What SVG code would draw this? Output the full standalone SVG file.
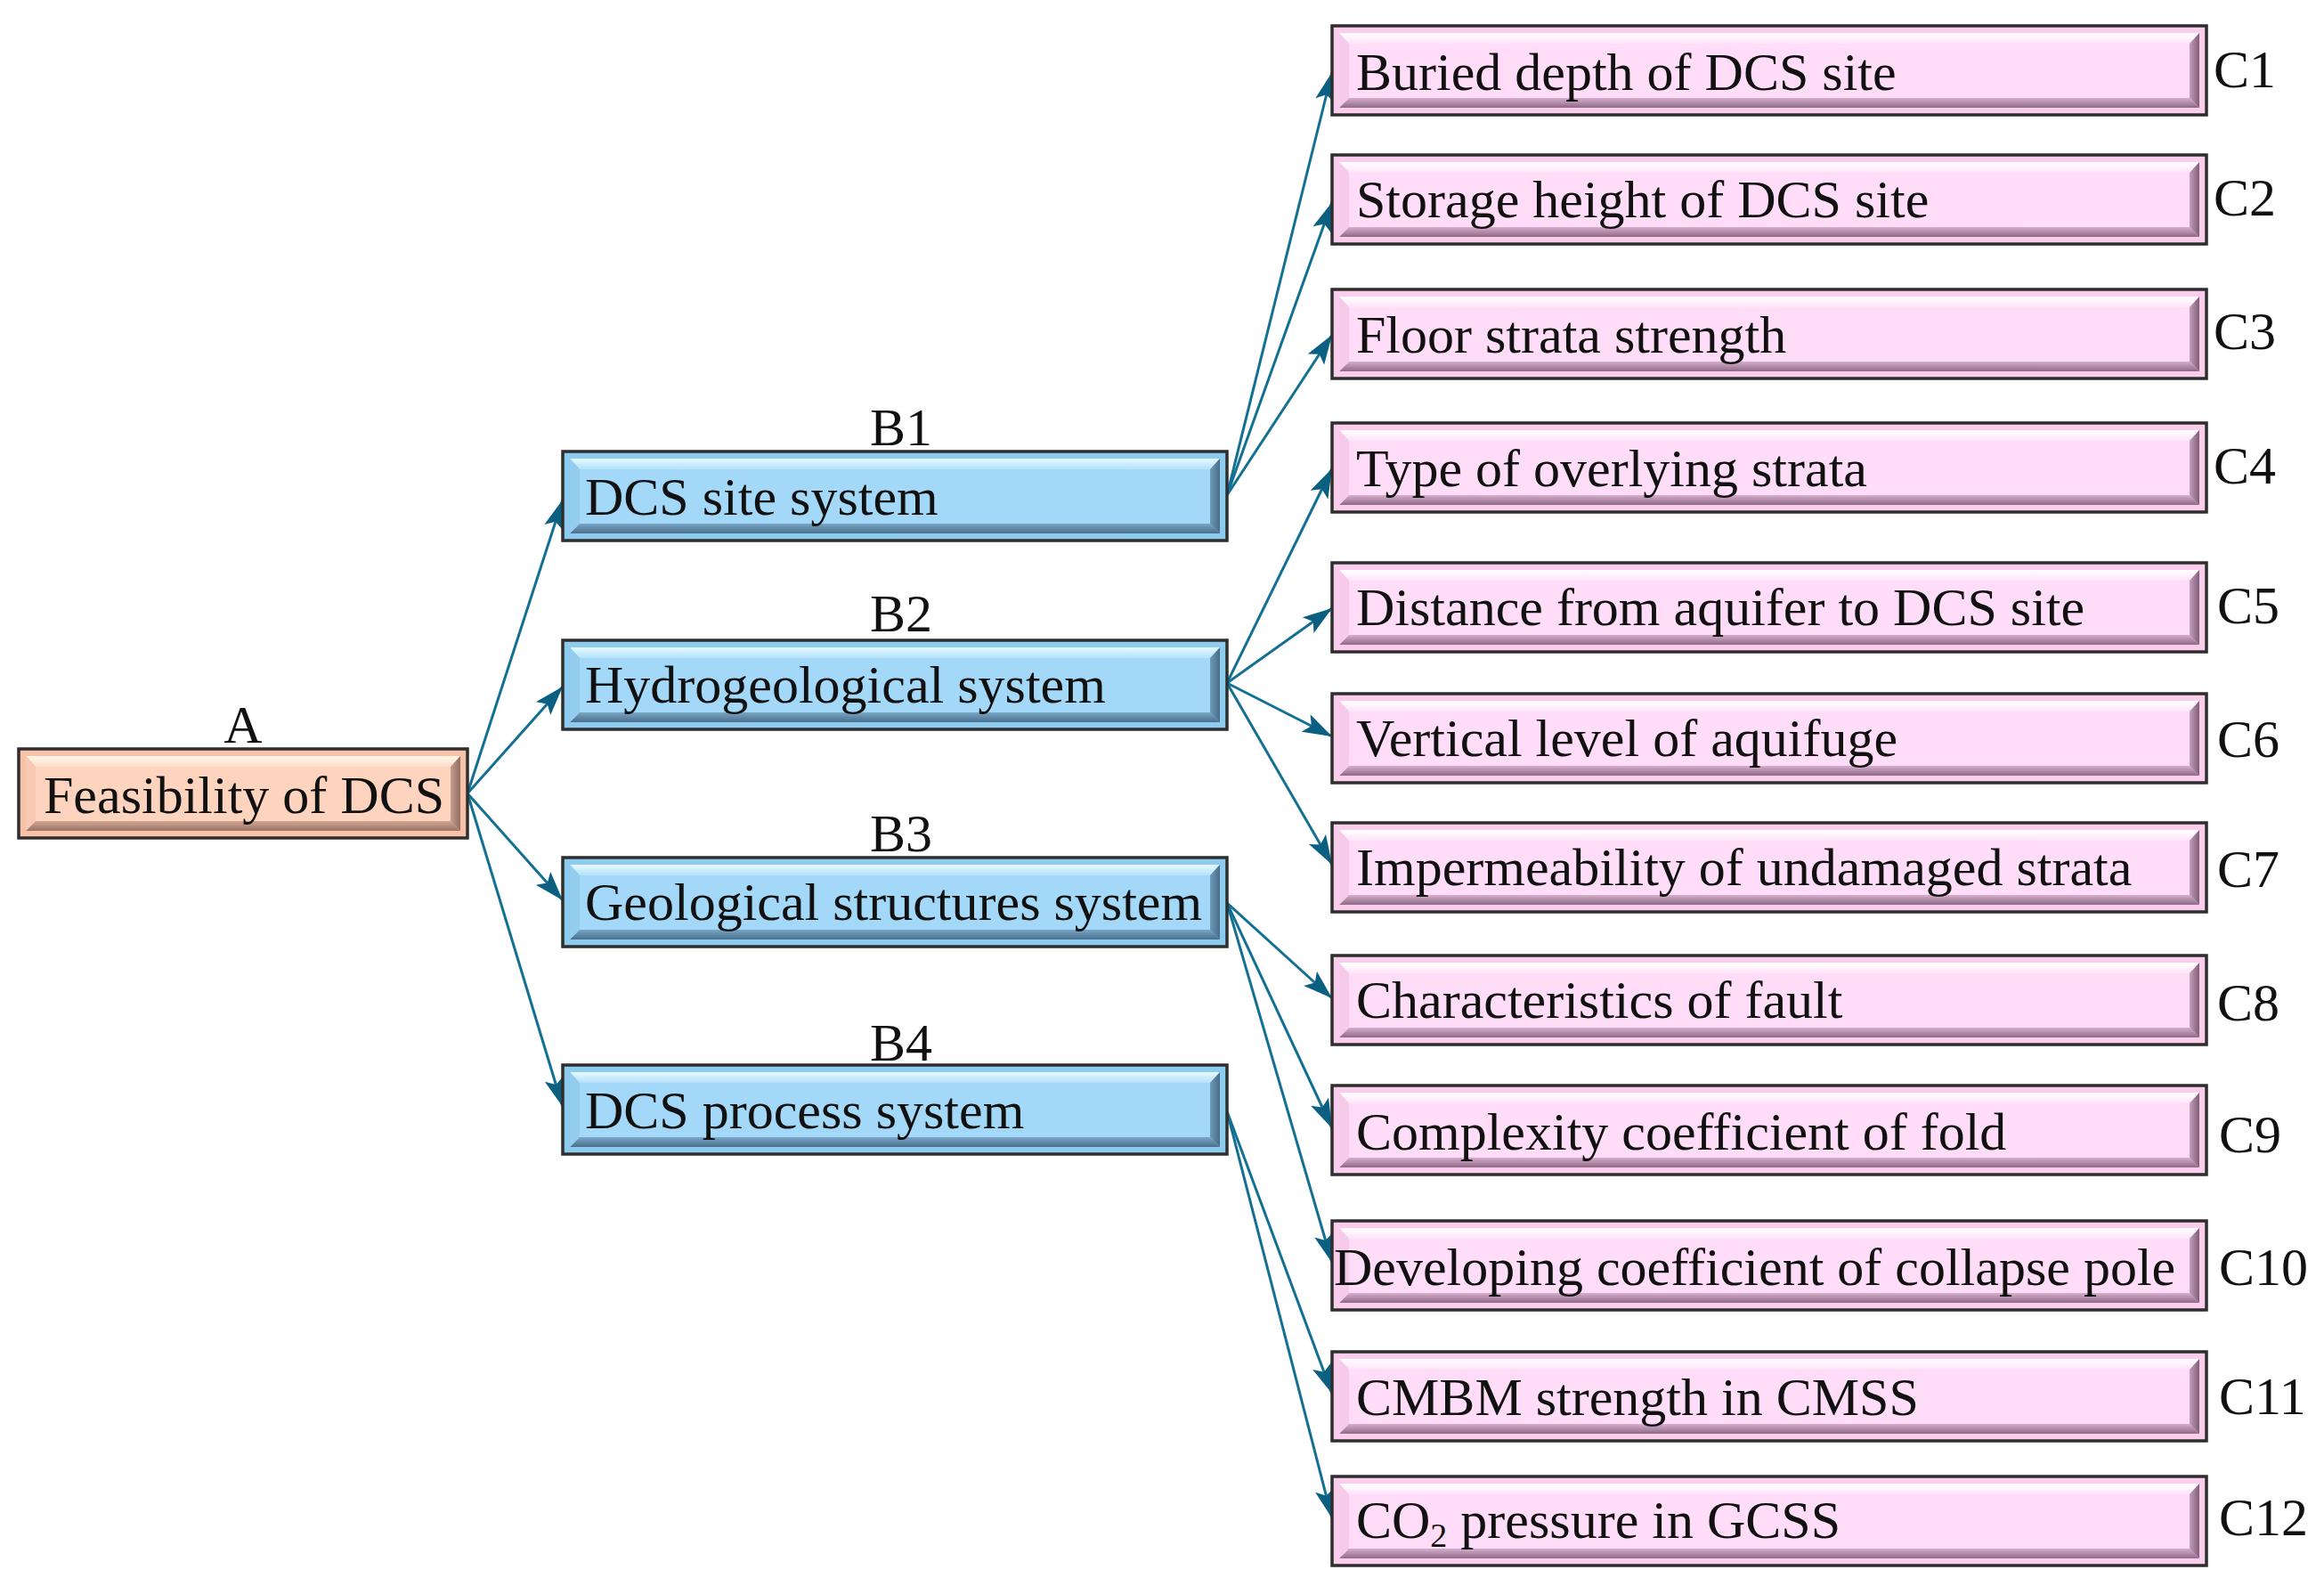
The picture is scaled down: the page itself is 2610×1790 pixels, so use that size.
<svg xmlns="http://www.w3.org/2000/svg" xmlns:xlink="http://www.w3.org/1999/xlink" width="2610" height="1790" viewBox="0 0 2610 1790">
<style>
text{font-family:"Liberation Serif","Times New Roman",serif;font-size:60px;fill:#111}
.lbl{text-anchor:middle}
.edge{stroke:#137092;stroke-width:3;fill:none;marker-end:url(#arr)}
.frame{stroke:#2e2e2e;stroke-width:3.5}
</style>
<defs>
<marker id="arr" markerUnits="userSpaceOnUse" markerWidth="34" markerHeight="24" refX="33" refY="12" orient="auto">
<path d="M0,1 L33,12 L0,23 L7,12 Z" fill="#0B5F80"/>
</marker>
<linearGradient id="pT" x1="0" y1="0" x2="0" y2="1"><stop offset="0" stop-color="#FFFFFF"/><stop offset="1" stop-color="#FFE4F9"/></linearGradient>
<linearGradient id="pB" x1="0" y1="0" x2="0" y2="1"><stop offset="0" stop-color="#D7AECD"/><stop offset="1" stop-color="#8E6A87"/></linearGradient>
<linearGradient id="pR" x1="0" y1="0" x2="1" y2="0"><stop offset="0" stop-color="#C49DBB"/><stop offset="1" stop-color="#7E5E78"/></linearGradient>
<linearGradient id="bT" x1="0" y1="0" x2="0" y2="1"><stop offset="0" stop-color="#E6F9FF"/><stop offset="1" stop-color="#B4E1FA"/></linearGradient>
<linearGradient id="bB" x1="0" y1="0" x2="0" y2="1"><stop offset="0" stop-color="#7AA6C6"/><stop offset="1" stop-color="#4A6F8D"/></linearGradient>
<linearGradient id="bR" x1="0" y1="0" x2="1" y2="0"><stop offset="0" stop-color="#6F99B9"/><stop offset="1" stop-color="#486C89"/></linearGradient>
<linearGradient id="oT" x1="0" y1="0" x2="0" y2="1"><stop offset="0" stop-color="#FFF7EA"/><stop offset="1" stop-color="#FFDDC9"/></linearGradient>
<linearGradient id="oB" x1="0" y1="0" x2="0" y2="1"><stop offset="0" stop-color="#D2A592"/><stop offset="1" stop-color="#9A7567"/></linearGradient>
<linearGradient id="oR" x1="0" y1="0" x2="1" y2="0"><stop offset="0" stop-color="#C79C8C"/><stop offset="1" stop-color="#8F6E62"/></linearGradient>
<g id="boxC">
<rect class="frame" x="0" y="0" width="982" height="100" fill="#F9CDEB"/>
<polygon points="8,8 974,8 963,20 19,20" fill="url(#pT)"/>
<polygon points="8,92 974,92 963,81 19,81" fill="url(#pB)"/>
<polygon points="8,8 19,20 19,81 8,92" fill="#F6CBEA"/>
<polygon points="974,8 963,20 963,81 974,92" fill="url(#pR)"/>
<rect x="19" y="20" width="944" height="61" fill="#FFDDF8"/>
</g>
<g id="boxB">
<rect class="frame" x="0" y="0" width="746" height="100" fill="#8DCBEF"/>
<polygon points="8,8 738,8 727,20 19,20" fill="url(#bT)"/>
<polygon points="8,92 738,92 727,81 19,81" fill="url(#bB)"/>
<polygon points="8,8 19,20 19,81 8,92" fill="#93CDF0"/>
<polygon points="738,8 727,20 727,81 738,92" fill="url(#bR)"/>
<rect x="19" y="20" width="708" height="61" fill="#A3D8F8"/>
</g>
<g id="boxA">
<rect class="frame" x="0" y="0" width="504" height="100" fill="#F8C2A8"/>
<polygon points="8,8 496,8 485,20 19,20" fill="url(#oT)"/>
<polygon points="8,92 496,92 485,81 19,81" fill="url(#oB)"/>
<polygon points="8,8 19,20 19,81 8,92" fill="#F9C8B0"/>
<polygon points="496,8 485,20 485,81 496,92" fill="url(#oR)"/>
<rect x="19" y="20" width="466" height="61" fill="#FFD4BE"/>
</g>
</defs>
<rect x="0" y="0" width="2610" height="1790" fill="#FFFFFF"/>

<g id="connectors">
<line class="edge" x1="525" y1="891" x2="632" y2="561"/>
<line class="edge" x1="525" y1="891" x2="632" y2="771"/>
<line class="edge" x1="525" y1="891" x2="632" y2="1011"/>
<line class="edge" x1="525" y1="891" x2="632" y2="1243"/>
<line class="edge" x1="1378" y1="556" x2="1496" y2="81"/>
<line class="edge" x1="1378" y1="556" x2="1496" y2="227"/>
<line class="edge" x1="1378" y1="556" x2="1496" y2="376"/>
<line class="edge" x1="1378" y1="767" x2="1496" y2="526"/>
<line class="edge" x1="1378" y1="767" x2="1496" y2="683"/>
<line class="edge" x1="1378" y1="767" x2="1496" y2="827"/>
<line class="edge" x1="1378" y1="767" x2="1496" y2="971"/>
<line class="edge" x1="1378" y1="1014" x2="1496" y2="1121"/>
<line class="edge" x1="1378" y1="1014" x2="1496" y2="1267"/>
<line class="edge" x1="1378" y1="1014" x2="1496" y2="1418"/>
<line class="edge" x1="1378" y1="1248" x2="1496" y2="1565"/>
<line class="edge" x1="1378" y1="1248" x2="1496" y2="1705"/>
</g>

<g id="A">
<use xlink:href="#boxA" x="21" y="841"/>
<text x="49" y="913">Feasibility of DCS</text>
<text class="lbl" x="273" y="834">A</text>
</g>

<g id="B1">
<use xlink:href="#boxB" x="632" y="507"/>
<text x="657" y="578">DCS site system</text>
<text class="lbl" x="1012" y="500">B1</text>
</g>
<g id="B2">
<use xlink:href="#boxB" x="632" y="719"/>
<text x="657" y="789">Hydrogeological system</text>
<text class="lbl" x="1012" y="709">B2</text>
</g>
<g id="B3">
<use xlink:href="#boxB" x="632" y="963"/>
<text x="657" y="1033">Geological structures system</text>
<text class="lbl" x="1012" y="956">B3</text>
</g>
<g id="B4">
<use xlink:href="#boxB" x="632" y="1196"/>
<text x="657" y="1267">DCS process system</text>
<text class="lbl" x="1012" y="1191">B4</text>
</g>

<g id="C1">
<use xlink:href="#boxC" x="1496" y="29"/>
<text x="1523" y="101">Buried depth of DCS site</text>
<text x="2486" y="98">C1</text>
</g>
<g id="C2">
<use xlink:href="#boxC" x="1496" y="174"/>
<text x="1523" y="244">Storage height of DCS site</text>
<text x="2486" y="242">C2</text>
</g>
<g id="C3">
<use xlink:href="#boxC" x="1496" y="325"/>
<text x="1523" y="396">Floor strata strength</text>
<text x="2486" y="392">C3</text>
</g>
<g id="C4">
<use xlink:href="#boxC" x="1496" y="475"/>
<text x="1523" y="546">Type of overlying strata</text>
<text x="2486" y="543">C4</text>
</g>
<g id="C5">
<use xlink:href="#boxC" x="1496" y="632"/>
<text x="1523" y="702">Distance from aquifer to DCS site</text>
<text x="2490" y="700">C5</text>
</g>
<g id="C6">
<use xlink:href="#boxC" x="1496" y="779"/>
<text x="1523" y="849">Vertical level of aquifuge</text>
<text x="2490" y="850">C6</text>
</g>
<g id="C7">
<use xlink:href="#boxC" x="1496" y="924"/>
<text x="1523" y="994">Impermeability of undamaged strata</text>
<text x="2490" y="996">C7</text>
</g>
<g id="C8">
<use xlink:href="#boxC" x="1496" y="1073"/>
<text x="1523" y="1143">Characteristics of fault</text>
<text x="2490" y="1146">C8</text>
</g>
<g id="C9">
<use xlink:href="#boxC" x="1496" y="1219"/>
<text x="1523" y="1291">Complexity coefficient of fold</text>
<text x="2492" y="1294">C9</text>
</g>
<g id="C10">
<use xlink:href="#boxC" x="1496" y="1371"/>
<text x="1498" y="1443">Developing coefficient of collapse pole</text>
<text x="2492" y="1443">C10</text>
</g>
<g id="C11">
<use xlink:href="#boxC" x="1496" y="1518"/>
<text x="1523" y="1589">CMBM strength in CMSS</text>
<text x="2492" y="1588">C11</text>
</g>
<g id="C12">
<use xlink:href="#boxC" x="1496" y="1658"/>
<text x="1523" y="1727">CO<tspan font-size="38" dy="10">2</tspan><tspan dy="-10"> pressure in GCSS</tspan></text>
<text x="2492" y="1724">C12</text>
</g>
</svg>
